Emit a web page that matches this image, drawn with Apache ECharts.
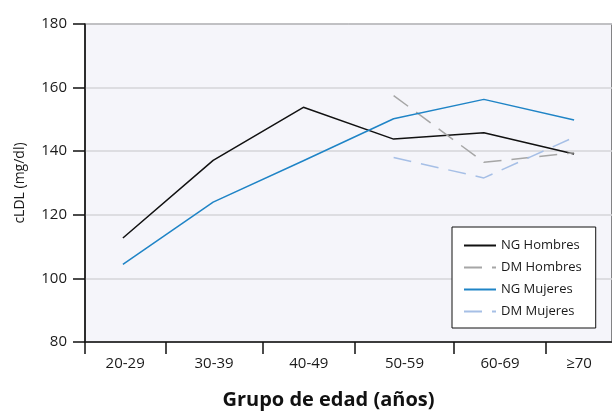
<!DOCTYPE html>
<html>
<head>
<meta charset="utf-8">
<script src="https://cdn.jsdelivr.net/npm/echarts@6/dist/echarts.min.js"></script>
<style>
  html, body { margin: 0; padding: 0; background: #fff; }
  #chart { width: 612px; height: 412px; }
</style>
</head>
<body>
<div id="chart"></div>
<script>
// grupos de edad
const categories = ['20-29', '30-39', '40-49', '50-59', '60-69', '≥70']
const yTicks = [80, 100, 120, 140, 160, 180]

// cLDL (mg/dl) por grupo, null = sin dato
const ngHombres = [112.7, 137.1, 153.8, 143.8, 145.8, 139.1]
const dmHombres = [null, null, null, 157.5, 136.5, 139.5]
const ngMujeres = [104.4, 124.0, 137.0, 150.2, 156.3, 149.8]
const dmMujeres = [null, null, null, 138.0, 131.6, 144.4]

const FONT = '"Open Sans", "Noto Sans", sans-serif'

// bordes de las bandas del eje x (el original no es regular)
const bandEdges = [-0.42, 0.47, 1.55, 2.57, 3.67, 4.69, 5.42]
const labelPos = categories.map((c, i) => (bandEdges[i] + bandEdges[i + 1]) / 2)

function toPairs(arr) {
  return arr.map((v, i) => [i, v])
}

function lineSeries(name, data, color, dashed) {
  return {
    name: name,
    type: 'line',
    data: toPairs(data),
    symbol: 'none',
    connectNulls: false,
    lineStyle: {
      color: color,
      width: 1.5,
      type: dashed ? [18, 10] : 'solid'
    },
    itemStyle: { color: color },
    emphasis: { disabled: true }
  }
}

const chart = echarts.init(document.getElementById('chart'))
chart.setOption({
  animation: false,
  textStyle: { fontFamily: FONT },
  grid: {
    left: 85,
    top: 24,
    right: 0,
    bottom: 70,
    outerBoundsMode: 'none',
    show: true,
    backgroundColor: '#f5f5fa',
    borderColor: '#111',
    borderWidth: 1
  },
  legend: {
    orient: 'vertical',
    left: 452,
    top: 227,
    padding: [12, 14, 10, 11],
    backgroundColor: '#fff',
    borderColor: '#111',
    borderWidth: 1,
    itemWidth: 32,
    itemHeight: 14,
    itemGap: 9,
    itemStyle: { opacity: 0 },  // solo la línea, sin círculo
    textStyle: { fontSize: 13, color: '#1a1a1a', fontFamily: FONT },
    data: ['NG Hombres', 'DM Hombres', 'NG Mujeres', 'DM Mujeres']
  },
  xAxis: {
    type: 'value',
    min: bandEdges[0],
    max: bandEdges[bandEdges.length - 1],
    name: 'Grupo de edad (años)',
    nameLocation: 'middle',
    nameGap: 48,
    nameTextStyle: {
      fontSize: 20,
      fontWeight: 'bold',
      color: '#111',
      padding: [0, 40, 0, 0]
    },
    splitLine: { show: false },
    axisLine: { show: true, onZero: false, lineStyle: { color: '#111', width: 1.5 } },
    axisTick: {
      show: true,
      length: 12,
      lineStyle: { color: '#111', width: 1.5 },
      customValues: bandEdges.slice(0, -1)
    },
    axisLabel: {
      fontSize: 15,
      color: '#1a1a1a',
      margin: 14,
      customValues: labelPos,
      formatter: function (val) {
        let best = 0
        labelPos.forEach((p, i) => {
          if (Math.abs(p - val) < Math.abs(labelPos[best] - val)) best = i
        })
        return categories[best]
      }
    }
  },
  yAxis: {
    type: 'value',
    min: yTicks[0],
    max: yTicks[yTicks.length - 1],
    interval: 20,
    name: 'cLDL (mg/dl)',
    nameLocation: 'middle',
    nameGap: 58,
    nameTextStyle: { fontSize: 14, color: '#1a1a1a' },
    axisLine: { show: true, onZero: false, lineStyle: { color: '#111', width: 1.5 } },
    axisTick: { show: true, length: 12, lineStyle: { color: '#111', width: 1.5 } },
    axisLabel: { fontSize: 15, color: '#1a1a1a', margin: 18 },
    splitLine: { lineStyle: { color: '#d4d4d8', width: 1.5 } }
  },
  series: [
    lineSeries('NG Hombres', ngHombres, '#111111', false),
    lineSeries('DM Hombres', dmHombres, '#a6a6a6', true),
    lineSeries('NG Mujeres', ngMujeres, '#1f84c6', false),
    lineSeries('DM Mujeres', dmMujeres, '#a6bfe6', true)
  ]
})
</script>
</body>
</html>
